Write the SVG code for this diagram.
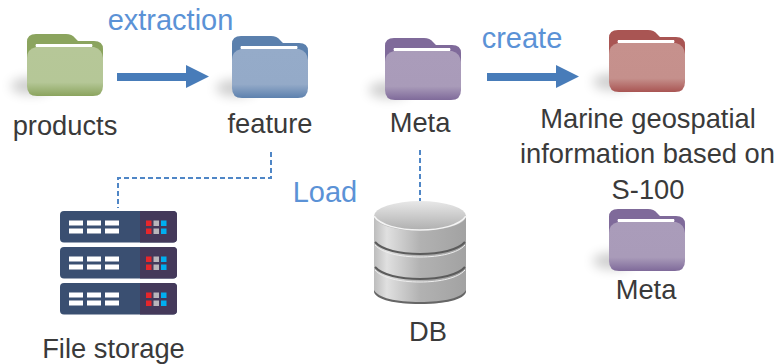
<svg xmlns="http://www.w3.org/2000/svg" xmlns:xlink="http://www.w3.org/1999/xlink" width="776" height="364" viewBox="0 0 776 364">
<style>
text{font-family:"Liberation Sans",Arial,sans-serif;font-size:27.300px;fill:#3a3a3a;text-anchor:middle}
.blue{fill:#5b92d6;font-size:29px}
.dash{fill:none;stroke:#4f86c6;stroke-width:2;stroke-dasharray:5 3}
.arrow{fill:#487cb9}
.bar{fill:#fff}
.led{width:5.500px;height:5.500px}
</style>
<defs>
<filter id="blur" x="-80%" y="-150%" width="260%" height="400%"><feGaussianBlur stdDeviation="6"/></filter>
<linearGradient id="fGreen" x1="0" y1="0" x2="0" y2="1"><stop offset="0" stop-color="#b6c798"/><stop offset=".72" stop-color="#b5c797"/><stop offset="1" stop-color="#8ba45e"/></linearGradient>
<linearGradient id="fBlue" x1="0" y1="0" x2="0" y2="1"><stop offset="0" stop-color="#95abc9"/><stop offset=".72" stop-color="#94aac8"/><stop offset="1" stop-color="#5d81ae"/></linearGradient>
<linearGradient id="fPurple" x1="0" y1="0" x2="0" y2="1"><stop offset="0" stop-color="#aa9cba"/><stop offset=".72" stop-color="#a99bb9"/><stop offset="1" stop-color="#7f6a9a"/></linearGradient>
<linearGradient id="fRed" x1="0" y1="0" x2="0" y2="1"><stop offset="0" stop-color="#c6918d"/><stop offset=".72" stop-color="#c5908c"/><stop offset="1" stop-color="#a95553"/></linearGradient>
<linearGradient id="cyl" x1="0" y1="0" x2="1" y2="0"><stop offset="0" stop-color="#bdbdbd"/><stop offset=".14" stop-color="#e0e0e0"/><stop offset=".5" stop-color="#b2b2b2"/><stop offset="1" stop-color="#a2a2a2"/></linearGradient>
<linearGradient id="cap" x1="0" y1="0" x2="0" y2="1"><stop offset="0" stop-color="#e8e8e8"/><stop offset="1" stop-color="#aeaeae"/></linearGradient>
<path id="back" d="M0 8Q0 0 9 0H39Q45 0 48 4L51 7H67Q76 7 76 15V40H0Z"/>
<path id="front" d="M0 24Q0 15 9 13H67Q75 15 76 24V52Q76 62 66 62H10Q0 62 0 52Z"/>
<path id="hl" d="M9 10H65Q66 11.500 65 13H9Q8 11.500 9 10Z"/>
<ellipse id="sh" cx="4" cy="52" rx="20" ry="8" fill="#000" opacity=".2" filter="url(#blur)"/>
<g id="server">
<rect width="117" height="31.500" rx="4" fill="#3a4f71"/>
<path d="M80 0H113Q117 0 117 4V27.500Q117 31.500 113 31.500H80Z" fill="#44395a"/>
<g class="bar"><rect x="9" y="9.500" width="14" height="5"/><rect x="27" y="9.500" width="14" height="5"/><rect x="45" y="9.500" width="14" height="5"/><rect x="9" y="17.500" width="14" height="5"/><rect x="27" y="17.500" width="14" height="5"/><rect x="45" y="17.500" width="14" height="5"/></g>
<g><rect class="led" x="86" y="9.500" fill="#e8262b"/><rect class="led" x="93.500" y="9.500" fill="#b9b6bb"/><rect class="led" x="101" y="9.500" fill="#00aeef"/><rect class="led" x="86" y="17.500" fill="#e8262b"/><rect class="led" x="93.500" y="17.500" fill="#b9b6bb"/><rect class="led" x="101" y="17.500" fill="#00aeef"/></g>
</g>
</defs>
<rect width="776" height="364" fill="#fff"/>
<g id="connectors">
<path class="arrow" d="M117 73H186V65L209 76.500L186 88V81H117Z"/>
<path class="arrow" d="M487 73H556V65L579 76.500L556 88V81H487Z"/>
<path class="dash" d="M271 152V178H118V208"/>
<path class="dash" d="M420 150V201"/>
</g>
<g id="products" transform="translate(27 34)"><use xlink:href="#sh"/><use xlink:href="#back" fill="#8ba45e"/><use xlink:href="#front" fill="url(#fGreen)"/><use xlink:href="#hl" fill="#fff"/></g>
<text x="65" y="135">products</text>
<g id="feature" transform="translate(232 36)"><use xlink:href="#sh"/><use xlink:href="#back" fill="#5b80ad"/><use xlink:href="#front" fill="url(#fBlue)"/><use xlink:href="#hl" fill="#fff"/></g>
<text x="270" y="133">feature</text>
<g id="meta" transform="translate(385 38)"><use xlink:href="#sh"/><use xlink:href="#back" fill="#7f6a9a"/><use xlink:href="#front" fill="url(#fPurple)"/><use xlink:href="#hl" fill="#fff"/></g>
<text x="420" y="132">Meta</text>
<g id="marine" transform="translate(609 30)"><use xlink:href="#sh"/><use xlink:href="#back" fill="#a95553"/><use xlink:href="#front" fill="url(#fRed)"/><use xlink:href="#hl" fill="#fff"/></g>
<text x="648" y="128">Marine geospatial</text>
<text x="647.500" y="163">information based on</text>
<text x="648" y="199">S-100</text>
<g id="meta2" transform="translate(609 209)"><use xlink:href="#sh"/><use xlink:href="#back" fill="#7f6a9a"/><use xlink:href="#front" fill="url(#fPurple)"/><use xlink:href="#hl" fill="#fff"/></g>
<text x="646" y="299">Meta</text>
<text class="blue" x="170.500" y="30">extraction</text>
<text class="blue" x="522" y="48">create</text>
<text class="blue" x="325" y="202">Load</text>
<g id="storage">
<use xlink:href="#server" x="60" y="211"/>
<use xlink:href="#server" x="60" y="247"/>
<use xlink:href="#server" x="60" y="283"/>
</g>
<text x="113.500" y="358">File storage</text>
<g id="db">
<path d="M374 290V215H466V290C466 298 446 304 420 304C394 304 374 298 374 290Z" fill="url(#cyl)"/>
<path d="M374 290C378 298 396 302 420 302C444 302 462 298 466 290V292C464 300 444 304 420 304C396 304 376 300 374 292Z" fill="#666"/>
<path d="M375 242C382 250 400 254 420 254C440 254 458 250 465 242" fill="none" stroke="#5c5c5c" stroke-width="2"/>
<path d="M375 267C382 275 400 279 420 279C440 279 458 275 465 267" fill="none" stroke="#5c5c5c" stroke-width="2"/>
<path d="M375 245C382 253 400 257 420 257C440 257 458 253 465 245" fill="none" stroke="#eee" stroke-width="1"/>
<path d="M375 270C382 278 400 282 420 282C440 282 458 278 465 270" fill="none" stroke="#eee" stroke-width="1"/>
<ellipse cx="420" cy="216" rx="46" ry="15" fill="url(#cap)"/>
<path d="M374 216C380 225 398 230 420 230C442 230 460 225 466 216" fill="none" stroke="#f4f4f4" stroke-width="1.500"/>
</g>
<text x="428" y="341">DB</text>
</svg>
